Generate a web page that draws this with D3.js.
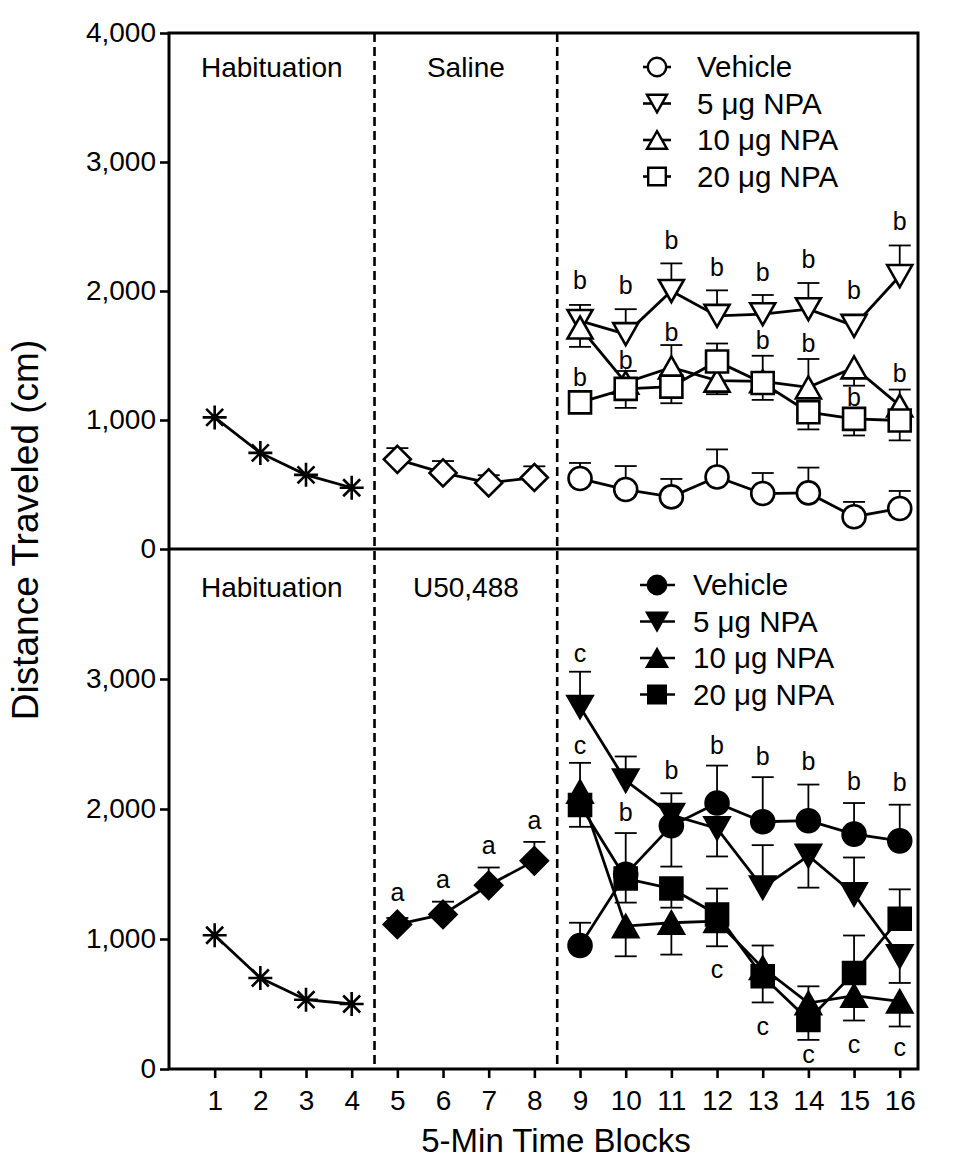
<!DOCTYPE html>
<html><head><meta charset="utf-8">
<script src="https://cdn.jsdelivr.net/npm/d3@7"></script>
<style>
body{margin:0;background:#fff}
text{font-family:"Liberation Sans",Arial,Helvetica,sans-serif;fill:#000}
</style>
</head><body>
<svg id="chart" width="971" height="1176"></svg>
<script>
// ---------------- DATA ----------------
const habBlocks  = [1, 2, 3, 4];
const drugBlocks = [5, 6, 7, 8];
const testBlocks = [9, 10, 11, 12, 13, 14, 15, 16];
const xTickValues = [1,2,3,4,5,6,7,8,9,10,11,12,13,14,15,16];
const yTicksTop = [0, 1000, 2000, 3000, 4000];
const yTicksBottom = [0, 1000, 2000, 3000];
const groupNames = ["Vehicle", "5 μg NPA", "10 μg NPA", "20 μg NPA"];
const phaseLabelsTop = ["Habituation", "Saline"];
const phaseLabelsBottom = ["Habituation", "U50,488"];
const xTitle = "5-Min Time Blocks";
const yTitle = "Distance Traveled (cm)";

// Top panel (saline pretreatment)
const habTop = [1020, 745, 575, 475];
const salineMean = [695, 590, 512, 554];
const salineSem  = [87, 92, 60, 87];

const topVehicleMean = [546, 461, 404, 558, 430, 435, 250, 314];
const topVehicleSem  = [121, 182, 139, 214, 159, 196, 115, 136];
const topVehicleDir  = [1, 1, 1, 1, 1, 1, 1, 1];
const top5Mean = [1768, 1666, 2000, 1807, 1820, 1859, 1730, 2116];
const top5Sem  = [124, 193, 214, 198, 149, 203, 85, 237];
const top5Dir  = [1, 1, 1, 1, 1, 1, 1, 1];
const top10Mean = [1717, 1290, 1408, 1305, 1300, 1253, 1408, 1112];
const top10Sem  = [150, 90, 173, 105, 198, 220, 142, 124];
const top10Dir  = [-1, 1, 1, -1, 1, 1, -1, 1];
const top20Mean = [1137, 1241, 1259, 1454, 1287, 1060, 1009, 996];
const top20Sem  = [50, 147, 129, 139, 131, 133, 129, 154];
const top20Dir  = [1, -1, -1, 1, -1, -1, -1, -1];

// Top panel significance letters: [block, value at letter centre, letter]
const topLetters = [
  [9, 2077, "b"], [9, 1330, "b"], [10, 2039, "b"], [10, 1459, "b"],
  [11, 2386, "b"], [11, 1678, "b"], [12, 2180, "b"], [13, 2141, "b"],
  [13, 1614, "b"], [14, 2245, "b"], [14, 1588, "b"], [15, 2000, "b"],
  [15, 1176, "b"], [16, 2540, "b"], [16, 1357, "b"]
];

// Bottom panel (U50,488 pretreatment)
const habBottom = [1029, 700, 533, 500];
const u50Mean = [1112, 1189, 1413, 1601];
const u50Sem  = [50, 98, 137, 146];

const botVehicleMean = [950, 1498, 1871, 2046, 1902, 1910, 1807, 1755];
const botVehicleSem  = [175, 317, 314, 288, 343, 278, 239, 278];
const botVehicleDir  = [1, 1, -1, 1, 1, 1, 1, 1];
const bot5Mean = [2785, 2218, 1954, 1851, 1395, 1640, 1344, 867];
const bot5Sem  = [271, 186, 167, 216, 327, 245, 283, 205];
const bot5Dir  = [1, 1, 1, -1, 1, -1, 1, -1];
const bot10Mean = [2134, 1099, 1125, 1138, 778, 507, 564, 520];
const bot10Sem  = [221, 232, 245, 194, 172, 129, 191, 193];
const bot10Dir  = [1, -1, -1, -1, 1, 1, -1, -1];
const bot20Mean = [2031, 1465, 1388, 1189, 713, 378, 739, 1156];
const bot20Sem  = [168, 185, 147, 199, 201, 154, 288, 226];
const bot20Dir  = [-1, -1, -1, 1, -1, -1, 1, 1];

const bottomLetters = [
  [5, 1357, "a"], [6, 1452, "a"], [7, 1716, "a"], [8, 1910, "a"],
  [9, 3197, "c"], [9, 2484, "c"], [10, 1974, "b"], [11, 2296, "b"],
  [12, 2489, "b"], [12, 764, "c"], [13, 2399, "b"], [13, 327, "c"],
  [14, 2361, "b"], [14, 108, "c"], [15, 2211, "b"], [15, 185, "c"],
  [16, 2201, "b"], [16, 160, "c"]
];

// ---------------- LAYOUT ----------------
(function () {
const svg = d3.select("#chart");
const pLeft = 169, pRight = 918, pTop = 33, pMid = 549, pBottom = 1069;
const x = d3.scaleLinear().domain([0, 16.4]).range([pLeft, pRight]);
const yTop = d3.scaleLinear().domain([0, 4000]).range([pMid, pTop]);
const yBot = d3.scaleLinear().domain([0, 4000]).range([pBottom, pMid]);

const FONT = "28px";

function zip(blocks, mean, sem, dir) {
  return blocks.map((b, i) => ({b, v: mean[i], s: sem ? sem[i] : 0, d: dir ? dir[i] : 1}));
}

function markerPath(type, k) {
  const p = d3.path();
  if (type === "circle") { const r = 11.5 * k; p.moveTo(r, 0); p.arc(0, 0, r, 0, 2 * Math.PI); }
  else if (type === "square") { const h = 11 * k; p.rect(-h, -h, 2 * h, 2 * h); }
  else if (type === "triUp") { p.moveTo(0, -11 * k); p.lineTo(12.5 * k, 11 * k); p.lineTo(-12.5 * k, 11 * k); p.closePath(); }
  else if (type === "triDown") { p.moveTo(0, 11 * k); p.lineTo(12.5 * k, -11 * k); p.lineTo(-12.5 * k, -11 * k); p.closePath(); }
  else if (type === "diamond") { const h = 13.5 * k; p.moveTo(0, -h); p.lineTo(h, 0); p.lineTo(0, h); p.lineTo(-h, 0); p.closePath(); }
  else if (type === "asterisk") {
    const r = 12 * k;
    for (let a = 0; a < 4; a++) {
      const t = a * Math.PI / 4;
      p.moveTo(-r * Math.cos(t), -r * Math.sin(t)); p.lineTo(r * Math.cos(t), r * Math.sin(t));
    }
  }
  return p.toString();
}

function drawSeries(g, y, data, type, filled) {
  g.append("path").datum(data)
    .attr("d", d3.line().x(d => x(d.b)).y(d => y(d.v)))
    .attr("fill", "none").attr("stroke", "#000").attr("stroke-width", 2.8);
  const eb = g.append("g").attr("stroke", "#000").attr("stroke-width", 1.8);
  data.filter(d => d.s > 0).forEach(d => {
    const y0 = y(d.v), y1 = y(d.v + d.d * d.s);
    eb.append("line").attr("x1", x(d.b)).attr("x2", x(d.b)).attr("y1", y0).attr("y2", y1);
    eb.append("line").attr("x1", x(d.b) - 11).attr("x2", x(d.b) + 11).attr("y1", y1).attr("y2", y1);
  });
  g.selectAll(null).data(data).enter().append("path")
    .attr("transform", d => `translate(${x(d.b)},${y(d.v)})`)
    .attr("d", markerPath(type, 1))
    .attr("fill", type === "asterisk" ? "none" : (filled ? "#000" : "#fff"))
    .attr("stroke", "#000").attr("stroke-width", 2.6);
}

function drawLetters(g, y, letters) {
  g.selectAll(null).data(letters).enter().append("text")
    .attr("x", d => x(d[0])).attr("y", d => y(d[1]))
    .attr("dy", "0.33em").attr("text-anchor", "middle")
    .style("font-size", "25px").text(d => d[2]);
}

function drawLegend(g, y0, filled, lineX0, lineX1, textX) {
  const types = ["circle", "triDown", "triUp", "square"];
  groupNames.forEach((name, i) => {
    const by = y0 + i * 36.5;
    const cy = by - 10;
    g.append("line").attr("x1", lineX0).attr("x2", lineX1).attr("y1", cy).attr("y2", cy)
      .attr("stroke", "#000").attr("stroke-width", 2.6);
    g.append("path").attr("transform", `translate(657,${cy})`).attr("d", markerPath(types[i], 0.8))
      .attr("fill", filled ? "#000" : "#fff").attr("stroke", "#000").attr("stroke-width", 2.4);
    g.append("text").attr("x", textX).attr("y", by).style("font-size", "29.5px").text(name);
  });
}

// Dashed phase separators
[4.5, 8.5].forEach(v => {
  svg.append("line").attr("x1", x(v)).attr("x2", x(v)).attr("y1", pTop).attr("y2", pBottom)
    .attr("stroke", "#000").attr("stroke-width", 2.6).attr("stroke-dasharray", "9,5");
});

// Axes
const axL1 = svg.append("g").attr("transform", `translate(${pLeft},0)`)
  .call(d3.axisLeft(yTop).tickValues(yTicksTop).tickFormat(d3.format(",")).tickSize(9).tickPadding(4));
const axL2 = svg.append("g").attr("transform", `translate(${pLeft},0)`)
  .call(d3.axisLeft(yBot).tickValues(yTicksBottom).tickFormat(d3.format(",")).tickSize(9).tickPadding(4));
const axB = svg.append("g").attr("transform", `translate(0,${pBottom})`)
  .call(d3.axisBottom(x).tickValues(xTickValues).tickFormat(d3.format("d")).tickSize(9).tickPadding(12));
[axL1, axL2, axB].forEach(a => {
  a.select(".domain").remove();
  a.selectAll(".tick line").attr("stroke", "#000").attr("stroke-width", 2.6);
  a.selectAll(".tick text").style("font-size", FONT).style("font-family", '"Liberation Sans",Arial,sans-serif').attr("fill", "#000");
});

// Frame
svg.append("rect").attr("x", pLeft).attr("y", pTop).attr("width", pRight - pLeft).attr("height", pBottom - pTop)
  .attr("fill", "none").attr("stroke", "#000").attr("stroke-width", 3);
svg.append("line").attr("x1", pLeft).attr("x2", pRight).attr("y1", pMid).attr("y2", pMid)
  .attr("stroke", "#000").attr("stroke-width", 3);

// Phase labels
const phaseCenters = [(pLeft + x(4.5)) / 2, (x(4.5) + x(8.5)) / 2];
phaseLabelsTop.forEach((t, i) => svg.append("text").attr("x", phaseCenters[i]).attr("y", 77)
  .attr("text-anchor", "middle").style("font-size", FONT).text(t));
phaseLabelsBottom.forEach((t, i) => svg.append("text").attr("x", phaseCenters[i]).attr("y", 597)
  .attr("text-anchor", "middle").style("font-size", FONT).text(t));

// Top panel series
const gT = svg.append("g");
drawSeries(gT, yTop, zip(habBlocks, habTop), "asterisk", false);
drawSeries(gT, yTop, zip(drugBlocks, salineMean, salineSem), "diamond", false);
drawSeries(gT, yTop, zip(testBlocks, topVehicleMean, topVehicleSem, topVehicleDir), "circle", false);
drawSeries(gT, yTop, zip(testBlocks, top5Mean, top5Sem, top5Dir), "triDown", false);
drawSeries(gT, yTop, zip(testBlocks, top10Mean, top10Sem, top10Dir), "triUp", false);
drawSeries(gT, yTop, zip(testBlocks, top20Mean, top20Sem, top20Dir), "square", false);
drawLetters(gT, yTop, topLetters);
drawLegend(svg.append("g"), 77, false, 643, 671, 697);

// Bottom panel series
const gB = svg.append("g");
drawSeries(gB, yBot, zip(habBlocks, habBottom), "asterisk", false);
drawSeries(gB, yBot, zip(drugBlocks, u50Mean, u50Sem), "diamond", true);
drawSeries(gB, yBot, zip(testBlocks, botVehicleMean, botVehicleSem, botVehicleDir), "circle", true);
drawSeries(gB, yBot, zip(testBlocks, bot5Mean, bot5Sem, bot5Dir), "triDown", true);
drawSeries(gB, yBot, zip(testBlocks, bot10Mean, bot10Sem, bot10Dir), "triUp", true);
drawSeries(gB, yBot, zip(testBlocks, bot20Mean, bot20Sem, bot20Dir), "square", true);
drawLetters(gB, yBot, bottomLetters);
drawLegend(svg.append("g"), 595, true, 640, 675, 693);

// Axis titles
svg.append("text").attr("transform", "translate(38,530) rotate(-90)")
  .attr("text-anchor", "middle").style("font-size", "37px").text(yTitle);
svg.append("text").attr("x", 556).attr("y", 1152)
  .attr("text-anchor", "middle").style("font-size", "33px").text(xTitle);
})();
</script>
</body></html>
